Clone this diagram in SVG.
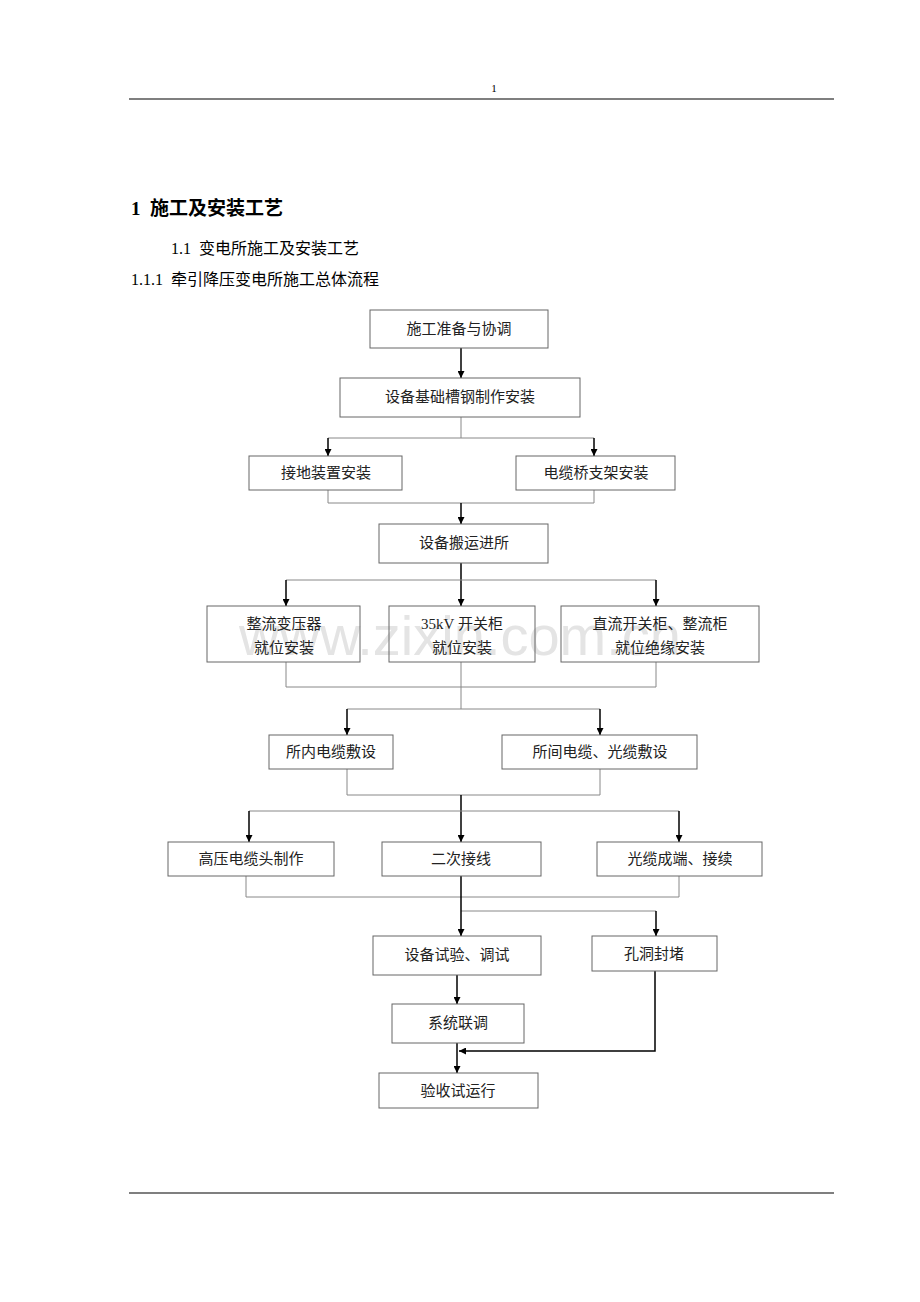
<svg xmlns="http://www.w3.org/2000/svg" width="920" height="1302" viewBox="0 0 920 1302">
<defs>
<marker id="ah" viewBox="0 0 10 10" refX="10" refY="5" markerWidth="7" markerHeight="7" markerUnits="userSpaceOnUse" orient="auto"><path d="M0,0 L10,5 L0,10 z" fill="#000"/></marker>
<style>
.b{fill:none;stroke:#666;stroke-width:1}
.t{font-family:"Liberation Serif","Noto Sans CJK SC",serif;font-size:15px;fill:#222;text-anchor:middle}
.l{fill:none;stroke:#888;stroke-width:1}
.a{fill:none;stroke:#000;stroke-width:1.5;marker-end:url(#ah)}
.h{font-family:"Liberation Serif","Noto Sans CJK SC",serif;fill:#000}
</style>
</defs>
<rect width="920" height="1302" fill="#fff"/>
<text x="494" y="92" class="h" font-size="11" text-anchor="middle">1</text>
<line x1="129" y1="99" x2="834" y2="99" stroke="#000" stroke-width="1.2"/>
<line x1="129" y1="1193" x2="834" y2="1193" stroke="#000" stroke-width="1.2"/>
<text x="131" y="215" class="h" font-size="19" font-weight="bold" xml:space="preserve">1  施工及安装工艺</text>
<text x="171" y="254" class="h" font-size="16" xml:space="preserve">1.1  变电所施工及安装工艺</text>
<text x="131" y="285" class="h" font-size="16" xml:space="preserve">1.1.1  牵引降压变电所施工总体流程</text>
<text x="460" y="655" font-family="Liberation Sans,sans-serif" font-size="56" fill="#e4e4e4" text-anchor="middle">www.zixin.com.cn</text>
<g id="connectors">
<path class="a" d="M461,348 V378"/>
<path class="l" d="M461,417 V438 M328,438 H594"/>
<path class="a" d="M328,438 V456"/><path class="a" d="M594,438 V456"/>
<path class="l" d="M328,490 V503 H594 V490"/>
<path class="a" d="M461,503 V524"/>
<path class="a" d="M461,563 V606"/>
<path class="l" d="M286,580 H656"/>
<path class="a" d="M286,580 V606"/><path class="a" d="M656,580 V606"/>
<path class="l" d="M286,662 V687 H656 V662 M461,662 V709 M347,709 H600"/>
<path class="a" d="M347,709 V735"/><path class="a" d="M600,709 V735"/>
<path class="l" d="M347,769 V795 H600 V769"/>
<path class="a" d="M461,795 V842"/>
<path class="l" d="M249,811 H679"/>
<path class="a" d="M249,811 V842"/><path class="a" d="M679,811 V842"/>
<path class="l" d="M246,876 V897 H679 V876 M461,911 H656"/>
<path class="a" d="M461,876 V936"/>
<path class="a" d="M656,911 V936"/>
<path class="a" d="M457,975 V1004"/>
<path class="a" d="M457,1043 V1073"/>
<path class="a" d="M655,971 V1051 H459"/>
</g>
<g id="n1"><rect class="b" x="370" y="310" width="178" height="38"/><text class="t" x="459" y="334">施工准备与协调</text></g>
<g id="n2"><rect class="b" x="340" y="378" width="240" height="39"/><text class="t" x="460" y="402">设备基础槽钢制作安装</text></g>
<g id="n3"><rect class="b" x="249" y="456" width="153" height="34"/><text class="t" x="326" y="478">接地装置安装</text></g>
<g id="n4"><rect class="b" x="516" y="456" width="159" height="34"/><text class="t" x="596" y="478">电缆桥支架安装</text></g>
<g id="n5"><rect class="b" x="379" y="524" width="169" height="39"/><text class="t" x="464" y="548">设备搬运进所</text></g>
<g id="n6"><rect class="b" x="207" y="606" width="153" height="56"/><text class="t" x="284" y="629">整流变压器</text><text class="t" x="284" y="653">就位安装</text></g>
<g id="n7"><rect class="b" x="389" y="606" width="146" height="56"/><text class="t" x="462" y="629">35kV 开关柜</text><text class="t" x="462" y="653">就位安装</text></g>
<g id="n8"><rect class="b" x="561" y="606" width="198" height="56"/><text class="t" x="660" y="629">直流开关柜、整流柜</text><text class="t" x="660" y="653">就位绝缘安装</text></g>
<g id="n9"><rect class="b" x="269" y="735" width="124" height="34"/><text class="t" x="331" y="757">所内电缆敷设</text></g>
<g id="n10"><rect class="b" x="502" y="735" width="195" height="34"/><text class="t" x="600" y="757">所间电缆、光缆敷设</text></g>
<g id="n11"><rect class="b" x="168" y="842" width="166" height="34"/><text class="t" x="251" y="864">高压电缆头制作</text></g>
<g id="n12"><rect class="b" x="382" y="842" width="159" height="34"/><text class="t" x="461" y="864">二次接线</text></g>
<g id="n13"><rect class="b" x="597" y="842" width="165" height="34"/><text class="t" x="680" y="864">光缆成端、接续</text></g>
<g id="n14"><rect class="b" x="373" y="936" width="168" height="39"/><text class="t" x="457" y="960">设备试验、调试</text></g>
<g id="n15"><rect class="b" x="592" y="936" width="125" height="35"/><text class="t" x="654" y="959">孔洞封堵</text></g>
<g id="n16"><rect class="b" x="392" y="1004" width="132" height="39"/><text class="t" x="458" y="1028">系统联调</text></g>
<g id="n17"><rect class="b" x="379" y="1073" width="159" height="35"/><text class="t" x="458" y="1096">验收试运行</text></g>
</svg>
